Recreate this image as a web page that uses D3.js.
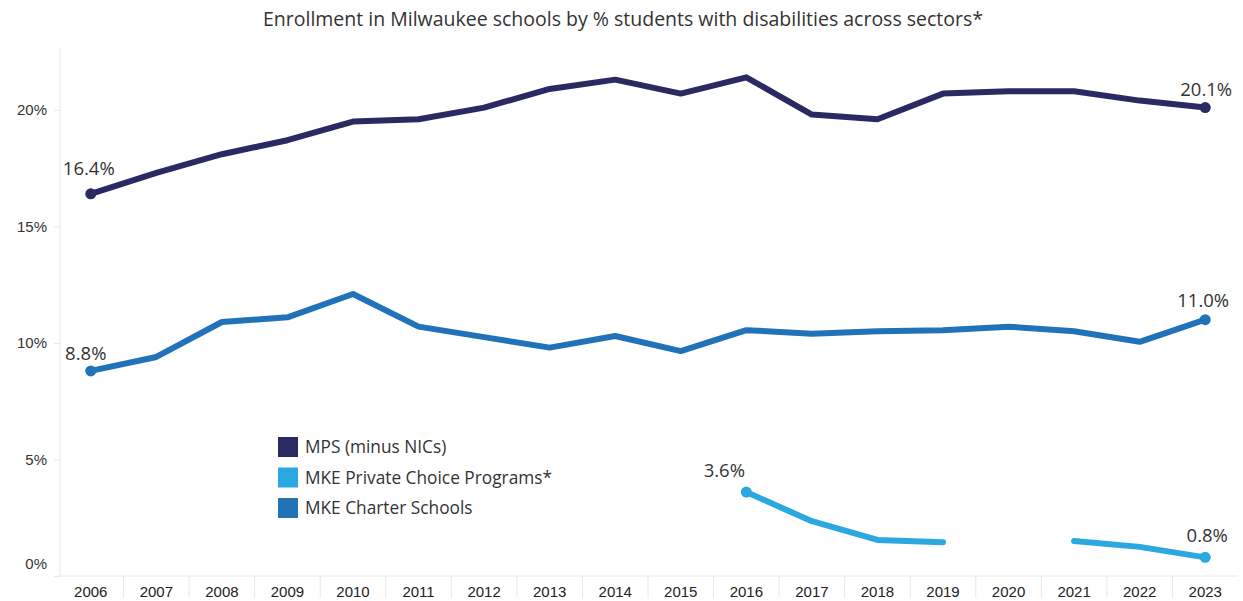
<!DOCTYPE html>
<html>
<head>
<meta charset="utf-8">
<script src="https://cdn.jsdelivr.net/npm/d3@7"></script>
<style>
  html, body { margin: 0; padding: 0; background: #fff; }
  svg { display: block; font-family: "Open Sans", "Noto Sans", sans-serif; }
</style>
</head>
<body>
<svg id="chart" width="1243" height="601"></svg>
<script>
// Share of enrolled students with disabilities, by sector (percent)
const years = [2006, 2007, 2008, 2009, 2010, 2011, 2012, 2013, 2014, 2015, 2016, 2017, 2018, 2019, 2020, 2021, 2022, 2023];
const mpsValues     = [16.4, 17.3, 18.1, 18.7, 19.5, 19.6, 20.1, 20.9, 21.3, 20.7, 21.4, 19.8, 19.6, 20.7, 20.8, 20.8, 20.4, 20.1];
const charterValues = [8.8, 9.4, 10.9, 11.1, 12.1, 10.7, 10.25, 9.8, 10.3, 9.65, 10.55, 10.4, 10.5, 10.55, 10.7, 10.5, 10.05, 11.0];
const privateValues = [null, null, null, null, null, null, null, null, null, null, 3.6, 2.35, 1.55, 1.45, null, 1.5, 1.25, 0.8];
const yTicks = [0, 5, 10, 15, 20];
const seriesNames = ["MPS (minus NICs)", "MKE Private Choice Programs*", "MKE Charter Schools"];
const seriesColors = ["#2b2962", "#2aa8df", "#2272b9"];

// Placement of the start/end value labels relative to their points: [dx, dy]
const labelNudge = {
  "MPS (minus NICs)": [[-2, -19], [1, -12]],
  "MKE Private Choice Programs*": [[-22, -15], [2, -15]],
  "MKE Charter Schools": [[-5, -11], [-2, -13]]
};

const series = [
  { name: seriesNames[0], color: seriesColors[0], values: mpsValues },
  { name: seriesNames[1], color: seriesColors[1], values: privateValues },
  { name: seriesNames[2], color: seriesColors[2], values: charterValues }
];

const svg = d3.select("#chart");
const axisColor = "#e8e8e8";
const textColor = "#333";

const x = d3.scaleBand().domain(years).range([58, 1238]).padding(0);
const y = d3.scaleLinear().domain([0, 22.7]).range([576, 47]);
const cx = d => x(d) + x.bandwidth() / 2;

// Subtitle
svg.append("text")
  .attr("x", 623).attr("y", 26)
  .attr("text-anchor", "middle")
  .attr("font-size", 19.5)
  .attr("fill", textColor)
  .text("Enrollment in Milwaukee schools by % students with disabilities across sectors*");

// Y axis
const yAxis = svg.append("g")
  .attr("transform", "translate(60,0)")
  .call(d3.axisLeft(y).tickValues(yTicks).tickFormat(d => d + "%").tickSize(6).tickPadding(7));
yAxis.select(".domain").attr("stroke", axisColor).attr("d", `M0,${y.range()[1]}V${y.range()[0]}`);
yAxis.selectAll(".tick line").attr("stroke", axisColor);
yAxis.selectAll(".tick text")
  .attr("font-size", 15).attr("fill", textColor)
  .attr("dy", d => d === 0 ? "-0.5em" : "0.32em");

// X axis with separators between categories
const xAxis = svg.append("g")
  .attr("transform", `translate(0,${y(0)})`)
  .call(d3.axisBottom(x).tickSize(0).tickPadding(10));
xAxis.select(".domain").attr("stroke", axisColor).attr("d", `M${x.range()[0]},0H${x.range()[1]}`);
xAxis.selectAll(".tick text").attr("font-size", 15).attr("fill", "#222");
svg.append("g")
  .selectAll("line")
  .data(years.slice(1))
  .join("line")
  .attr("x1", d => x(d)).attr("x2", d => x(d))
  .attr("y1", y(0)).attr("y2", y(0) + 22)
  .attr("stroke", axisColor);

// Lines
const line = d3.line()
  .defined(d => d.v !== null)
  .x(d => cx(d.year))
  .y(d => y(d.v));

series.forEach(s => {
  const pts = years.map((yr, i) => ({ year: yr, v: s.values[i] }));
  svg.append("path")
    .datum(pts)
    .attr("fill", "none")
    .attr("stroke", s.color)
    .attr("stroke-width", 6)
    .attr("stroke-linejoin", "round")
    .attr("stroke-linecap", "round")
    .attr("d", line);

  const valid = pts.filter(p => p.v !== null);
  const ends = [valid[0], valid[valid.length - 1]];
  svg.append("g")
    .selectAll("circle")
    .data(ends)
    .join("circle")
    .attr("cx", d => cx(d.year))
    .attr("cy", d => y(d.v))
    .attr("r", 5.5)
    .attr("fill", s.color);

  const nudge = labelNudge[s.name];
  svg.append("g")
    .selectAll("text")
    .data(ends)
    .join("text")
    .attr("x", (d, i) => cx(d.year) + nudge[i][0])
    .attr("y", (d, i) => y(d.v) + nudge[i][1])
    .attr("text-anchor", "middle")
    .attr("font-size", 18.5)
    .attr("fill", textColor)
    .text(d => d.v.toFixed(1) + "%");
});

// Legend
const legend = svg.append("g").attr("transform", "translate(278,437)");
series.forEach((s, i) => {
  const g = legend.append("g").attr("transform", `translate(0,${i * 30.5})`);
  g.append("rect").attr("width", 20).attr("height", 20).attr("fill", s.color);
  g.append("text")
    .attr("x", 27).attr("y", 16)
    .attr("font-size", 17.3)
    .attr("fill", textColor)
    .text(s.name);
});
</script>
</body>
</html>
